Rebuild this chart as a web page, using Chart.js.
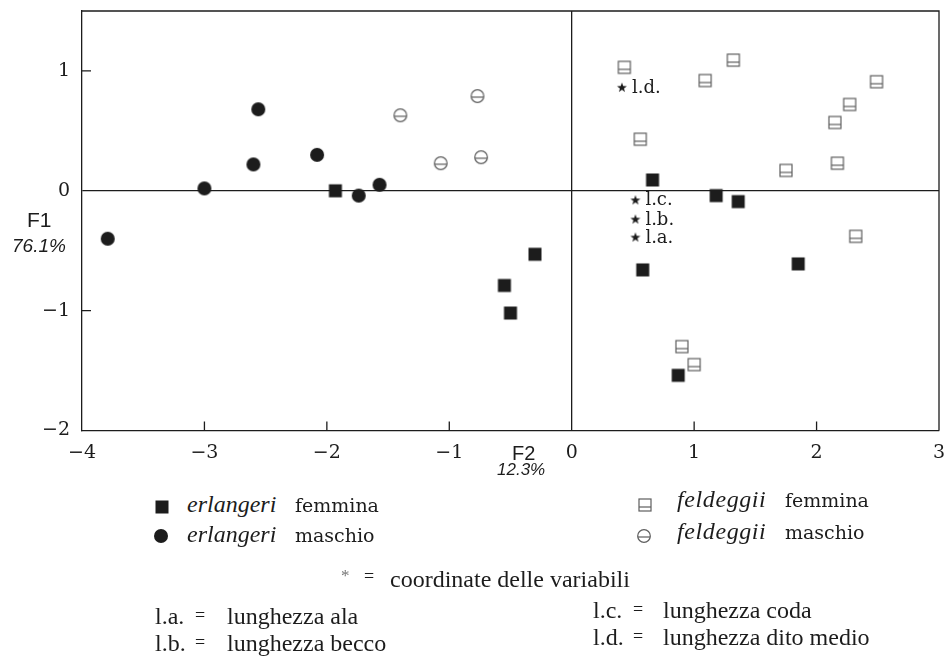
<!DOCTYPE html>
<html lang="it">
<head>
<meta charset="UTF-8">
<title>erlangeri / feldeggii - F1 x F2</title>
<script src="https://cdn.jsdelivr.net/npm/chart.js@4.4.1/dist/chart.umd.min.js"></script>
<style>
  body { margin: 0; background: #fff; width: 952px; height: 657px; position: relative; overflow: hidden; color: #1c1c1c; }
  #chart { position: absolute; left: 0; top: 0; }
  .t { position: absolute; white-space: nowrap; line-height: 1; }
  .sans { font-family: 'Liberation Sans', Arial, sans-serif; }
  .it { font-family: 'Liberation Serif', serif; font-style: italic; font-size: 24px; }
  .rm { font-family: 'DejaVu Serif', serif; font-size: 19px; }
  .gar { font-family: 'Liberation Serif', serif; font-size: 24px; }
  .sym { position: absolute; }
</style>
</head>
<body>
<canvas id="chart" width="952" height="480"></canvas>

<!-- axis titles -->
<div class="t sans" style="left:27px; top:209px; font-size:21px;">F1</div>
<div class="t sans" style="left:12px; top:236px; font-size:19px; font-style:italic;">76.1%</div>
<div class="t sans" style="left:512px; top:443px; font-size:20px;">F2</div>
<div class="t sans" style="left:497px; top:461px; font-size:17px; font-style:italic;">12.3%</div>

<!-- legend -->
<canvas class="sym" id="lg0" style="left:153px; top:498px;"></canvas>
<div class="t it" style="left:187px; top:492px;">erlangeri</div>
<div class="t rm" style="left:295px; top:496px;">femmina</div>
<canvas class="sym" id="lg1" style="left:152px; top:527px;"></canvas>
<div class="t it" style="left:187px; top:522px;">erlangeri</div>
<div class="t rm" style="left:295px; top:526px;">maschio</div>

<canvas class="sym" id="lg2" style="left:636px; top:496px;"></canvas>
<div class="t it" style="left:677px; top:487px; letter-spacing:0.6px;">feldeggii</div>
<div class="t rm" style="left:785px; top:491px;">femmina</div>
<canvas class="sym" id="lg3" style="left:635px; top:527px;"></canvas>
<div class="t it" style="left:677px; top:519px; letter-spacing:0.6px;">feldeggii</div>
<div class="t rm" style="left:785px; top:523px;">maschio</div>

<div class="t gar" style="left:341px; top:567px; font-size:17px; color:#777;">*</div>
<div class="t gar" style="left:364px; top:567px; font-size:18px;">=</div>
<div class="t gar" style="left:390px; top:567px;">coordinate delle variabili</div>

<div class="t gar" style="left:155px; top:604px;">l.a.</div>
<div class="t gar" style="left:195px; top:606px; font-size:18px;">=</div>
<div class="t gar" style="left:227px; top:604px;">lunghezza ala</div>
<div class="t gar" style="left:155px; top:631px;">l.b.</div>
<div class="t gar" style="left:195px; top:633px; font-size:18px;">=</div>
<div class="t gar" style="left:227px; top:631px;">lunghezza becco</div>

<div class="t gar" style="left:593px; top:598px;">l.c.</div>
<div class="t gar" style="left:633px; top:600px; font-size:18px;">=</div>
<div class="t gar" style="left:663px; top:598px;">lunghezza coda</div>
<div class="t gar" style="left:593px; top:625px;">l.d.</div>
<div class="t gar" style="left:633px; top:627px; font-size:18px;">=</div>
<div class="t gar" style="left:663px; top:625px;">lunghezza dito medio</div>

<script>
// ---- data (F2 = x, F1 = y) ----
const erlFemX = [-1.93, -0.30, -0.55, -0.50, 0.66, 1.18, 1.36, 0.58, 1.85, 0.87];
const erlFemY = [0.00, -0.53, -0.79, -1.02, 0.09, -0.04, -0.09, -0.66, -0.61, -1.54];

const erlMasX = [-3.79, -3.00, -2.60, -2.56, -2.08, -1.74, -1.57];
const erlMasY = [-0.40, 0.02, 0.22, 0.68, 0.30, -0.04, 0.05];

const felFemX = [0.43, 0.56, 1.09, 1.32, 1.75, 2.15, 2.27, 2.49, 2.17, 2.32, 0.90, 1.00];
const felFemY = [1.03, 0.43, 0.92, 1.09, 0.17, 0.57, 0.72, 0.91, 0.23, -0.38, -1.30, -1.45];

const felMasX = [-1.40, -1.07, -0.77, -0.74];
const felMasY = [0.63, 0.23, 0.79, 0.28];

// coordinate delle variabili
const varNames = ['l.a.', 'l.b.', 'l.c.', 'l.d.'];
const varX = [0.52, 0.52, 0.52, 0.41];
const varY = [-0.39, -0.24, -0.08, 0.86];

const xTicks = [-4, -3, -2, -1, 0, 1, 2, 3];
const yTicks = [-2, -1, 0, 1];

const INK = '#1c1c1c';
const GREY = '#5e5e5e';

// marker images
function marker(kind) {
    const c = document.createElement('canvas');
    c.width = 18; c.height = 18;
    const g = c.getContext('2d');
    const m = 9;
    g.fillStyle = INK;
    g.strokeStyle = GREY;
    g.lineWidth = 1.2;
    if (kind === 'sqFill') {
        g.fillRect(m - 6.5, m - 6.5, 13, 13);
    } else if (kind === 'ciFill') {
        g.beginPath(); g.arc(m, m, 7, 0, 2 * Math.PI); g.fill();
    } else if (kind === 'sqOpen') {
        g.strokeRect(m - 6, m - 6, 12, 12);
        g.beginPath(); g.moveTo(m - 6, m + 2); g.lineTo(m + 6, m + 2); g.stroke();
    } else if (kind === 'ciOpen') {
        g.beginPath(); g.arc(m, m, 6.3, 0, 2 * Math.PI); g.stroke();
        g.beginPath(); g.moveTo(m - 6.3, m + 1); g.lineTo(m + 6.3, m + 1); g.stroke();
    } else if (kind === 'star') {
        g.beginPath();
        for (let i = 0; i < 10; i++) {
            const r = i % 2 ? 2.1 : 5.2;
            const a = -Math.PI / 2 + i * Math.PI / 5;
            g.lineTo(m + r * Math.cos(a), m + r * Math.sin(a));
        }
        g.closePath(); g.fill();
    }
    return c;
}

const mk = {
    sqFill: marker('sqFill'),
    ciFill: marker('ciFill'),
    sqOpen: marker('sqOpen'),
    ciOpen: marker('ciOpen'),
    star: marker('star')
};

// legend symbols
['sqFill', 'ciFill', 'sqOpen', 'ciOpen'].forEach((k, i) => {
    const el = document.getElementById('lg' + i);
    el.width = 18; el.height = 18;
    el.getContext('2d').drawImage(mk[k], 0, 0);
});

const pts = (xs, ys) => xs.map((x, i) => ({ x: x, y: ys[i] }));

// frame and inside tick marks
const framePlugin = {
    id: 'frame',
    beforeDatasetsDraw(chart) {
        const { ctx, chartArea: a, scales } = chart;
        ctx.save();
        ctx.strokeStyle = INK;
        ctx.lineWidth = 1.3;
        ctx.beginPath();
        ctx.moveTo(a.left, a.top); ctx.lineTo(a.right, a.top); ctx.lineTo(a.right, a.bottom);
        xTicks.slice(1, -1).forEach(v => {
            if (v === 0) return;
            const px = scales.x.getPixelForValue(v);
            ctx.moveTo(px, a.bottom); ctx.lineTo(px, a.bottom - 9);
        });
        yTicks.slice(1).forEach(v => {
            if (v === 0) return;
            const py = scales.y.getPixelForValue(v);
            ctx.moveTo(a.left, py); ctx.lineTo(a.left + 9, py);
        });
        ctx.stroke();
        ctx.restore();
    },
    afterDatasetsDraw(chart) {
        const { ctx } = chart;
        const meta = chart.getDatasetMeta(4);
        ctx.save();
        ctx.fillStyle = INK;
        ctx.font = '18px "DejaVu Serif"';
        ctx.textBaseline = 'alphabetic';
        meta.data.forEach((p, i) => {
            ctx.fillText(varNames[i], p.x + 10, p.y + 5);
        });
        ctx.restore();
    }
};

const tickFont = { family: 'DejaVu Serif', size: 19 };
const minus = v => String(v).replace('-', '\u2212');

new Chart(document.getElementById('chart'), {
    type: 'scatter',
    data: {
        datasets: [
            { label: 'erlangeri femmina', data: pts(erlFemX, erlFemY), pointStyle: mk.sqFill },
            { label: 'erlangeri maschio', data: pts(erlMasX, erlMasY), pointStyle: mk.ciFill },
            { label: 'feldeggii femmina', data: pts(felFemX, felFemY), pointStyle: mk.sqOpen },
            { label: 'feldeggii maschio', data: pts(felMasX, felMasY), pointStyle: mk.ciOpen },
            { label: 'coordinate delle variabili', data: pts(varX, varY), pointStyle: mk.star }
        ]
    },
    options: {
        responsive: false,
        animation: false,
        events: [],
        layout: { padding: { top: 11, right: 13, left: 0, bottom: 0 } },
        plugins: { legend: { display: false }, tooltip: { enabled: false } },
        scales: {
            x: {
                type: 'linear',
                min: -4, max: 3,
                afterBuildTicks: s => { s.ticks = xTicks.map(v => ({ value: v })); },
                afterFit: s => { s.height = 49.5; s.paddingLeft = 0; s.paddingRight = 0; },
                ticks: { font: tickFont, color: INK, padding: 11, maxRotation: 0, callback: minus },
                grid: {
                    drawTicks: false,
                    lineWidth: 1.3,
                    color: c => (c.tick && c.tick.value === 0) ? INK : 'rgba(0,0,0,0)'
                },
                border: { display: true, color: INK, width: 1.3 }
            },
            y: {
                type: 'linear',
                min: -2, max: 1.5,
                afterBuildTicks: s => { s.ticks = yTicks.map(v => ({ value: v })); },
                afterFit: s => { s.width = 82; s.paddingTop = 0; s.paddingBottom = 0; },
                ticks: { font: tickFont, color: INK, padding: 12, callback: minus },
                grid: {
                    drawTicks: false,
                    lineWidth: 1.3,
                    color: c => (c.tick && c.tick.value === 0) ? INK : 'rgba(0,0,0,0)'
                },
                border: { display: true, color: INK, width: 1.3 }
            }
        }
    },
    plugins: [framePlugin]
});
</script>
</body>
</html>
